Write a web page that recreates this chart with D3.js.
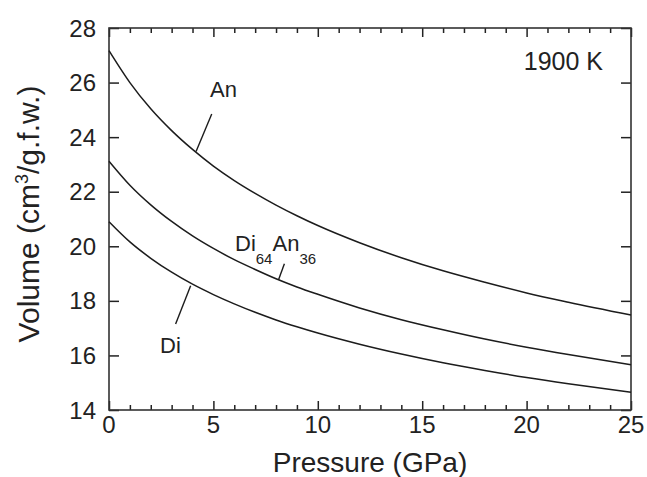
<!DOCTYPE html>
<html>
<head>
<meta charset="utf-8">
<script src="https://cdn.jsdelivr.net/npm/d3@7/dist/d3.min.js"></script>
<style>
  html, body { margin: 0; padding: 0; background: #fff; }
  svg { display: block; font-family: "Liberation Sans", Arial, Helvetica, sans-serif; }
</style>
</head>
<body>
<svg id="chart" width="647" height="477"></svg>
<script>
// Pressure (GPa) at which the volumes are tabulated
const pressure = [0, 1, 2, 3, 4, 5, 6, 7, 8, 9, 10, 12, 14, 16, 18, 20, 22, 25];
// Molar volumes (cm3 per gram formula weight) at 1900 K
const volAn   = [27.17, 26.00, 25.04, 24.24, 23.55, 22.94, 22.41, 21.94, 21.51, 21.12, 20.76, 20.13, 19.58, 19.10, 18.68, 18.29, 17.95, 17.48];
const volDiAn = [23.12, 22.24, 21.52, 20.91, 20.38, 19.92, 19.51, 19.15, 18.81, 18.51, 18.24, 17.74, 17.31, 16.94, 16.60, 16.30, 16.03, 15.66];
const volDi   = [20.90, 20.16, 19.56, 19.05, 18.61, 18.23, 17.89, 17.58, 17.30, 17.05, 16.82, 16.41, 16.05, 15.73, 15.45, 15.19, 14.96, 14.65];

const xTicks = [0, 5, 10, 15, 20, 25];
const xMinor = d3.range(0, 26, 1).filter(v => v % 5 !== 0);
const yTicks = [14, 16, 18, 20, 22, 24, 26, 28];

const svg = d3.select("#chart");
const plotL = 109, plotR = 631, plotT = 28, plotB = 410;
const ink = "#1c1c1c";

const x = d3.scaleLinear().domain([0, 25]).range([plotL, plotR]);
const y = d3.scaleLinear().domain([14, 28]).range([plotB, plotT]);

// axes: ticks point inward on all four sides
function styleAxis(g) {
  g.select(".domain").remove();
  g.selectAll(".tick line").attr("stroke", "#222").attr("stroke-width", 1.5);
  g.selectAll("text").remove();
}
svg.append("g").attr("transform", `translate(0,${plotB})`)
  .call(d3.axisBottom(x).tickValues(xTicks).tickSize(-9)).call(styleAxis);
svg.append("g").attr("transform", `translate(0,${plotB})`)
  .call(d3.axisBottom(x).tickValues(xMinor).tickSize(-5)).call(styleAxis);
svg.append("g").attr("transform", `translate(0,${plotT})`)
  .call(d3.axisTop(x).tickValues(xTicks).tickSize(-9)).call(styleAxis);
svg.append("g").attr("transform", `translate(0,${plotT})`)
  .call(d3.axisTop(x).tickValues(xMinor).tickSize(-5)).call(styleAxis);
svg.append("g").attr("transform", `translate(${plotL},0)`)
  .call(d3.axisLeft(y).tickValues(yTicks).tickSize(-10)).call(styleAxis);
svg.append("g").attr("transform", `translate(${plotR},0)`)
  .call(d3.axisRight(y).tickValues(yTicks).tickSize(-10)).call(styleAxis);

// frame
svg.append("rect")
  .attr("x", plotL).attr("y", plotT)
  .attr("width", plotR - plotL).attr("height", plotB - plotT)
  .attr("fill", "none").attr("stroke", "#333").attr("stroke-width", 1.6);

// tick labels
svg.append("g").selectAll("text").data(xTicks).join("text")
  .attr("x", d => x(d)).attr("y", 433)
  .attr("text-anchor", "middle")
  .attr("font-size", 24).attr("fill", "#222")
  .text(d => d);
svg.append("g").selectAll("text").data(yTicks).join("text")
  .attr("x", 96).attr("y", d => y(d) + 8.5)
  .attr("text-anchor", "end")
  .attr("font-size", 24).attr("fill", "#222")
  .text(d => d);

// axis titles
svg.append("text")
  .attr("x", (plotL + plotR) / 2).attr("y", 472)
  .attr("text-anchor", "middle").attr("font-size", 28).attr("fill", "#222")
  .text("Pressure (GPa)");
const yTitle = svg.append("text")
  .attr("transform", `translate(39, ${(plotT + plotB) / 2 - 5}) rotate(-90)`)
  .attr("text-anchor", "middle").attr("font-size", 30).attr("fill", "#222");
yTitle.append("tspan").text("Volume (cm");
yTitle.append("tspan").attr("font-size", 18).attr("dy", -11).text("3");
yTitle.append("tspan").attr("dy", 11).text("/g.f.w.)");

// compression curves
const line = d3.line()
  .x((d, i) => x(pressure[i]))
  .y(d => y(d))
  .curve(d3.curveMonotoneX);

[volAn, volDiAn, volDi].forEach(s => {
  svg.append("path")
    .attr("d", line(s))
    .attr("fill", "none")
    .attr("stroke", ink)
    .attr("stroke-width", 1.5);
});

// leader lines (data coordinates)
const leaders = [
  [[4.17, 23.47], [4.92, 24.85]],
  [[8.12, 18.77], [8.40, 19.36]],
  [[3.91, 18.55], [3.19, 17.15]]
];
leaders.forEach(([a, b]) => {
  svg.append("line")
    .attr("x1", x(a[0])).attr("y1", y(a[1]))
    .attr("x2", x(b[0])).attr("y2", y(b[1]))
    .attr("stroke", ink).attr("stroke-width", 1.4);
});

// curve labels
svg.append("text").attr("x", 210).attr("y", 97).attr("font-size", 22).attr("fill", "#222").text("An");
svg.append("text").attr("x", 160).attr("y", 353).attr("font-size", 22).attr("fill", "#222").text("Di");
const mix = svg.append("text").attr("x", 235).attr("y", 251).attr("font-size", 22).attr("fill", "#222");
mix.append("tspan").text("Di");
mix.append("tspan").attr("font-size", 15).attr("dy", 13).text("64");
mix.append("tspan").attr("dy", -13).text("An");
mix.append("tspan").attr("font-size", 15).attr("dy", 13).text("36");

// temperature note
svg.append("text").attr("x", 603).attr("y", 70).attr("text-anchor", "end")
  .attr("font-size", 25).attr("fill", "#222").text("1900 K");
</script>
</body>
</html>
